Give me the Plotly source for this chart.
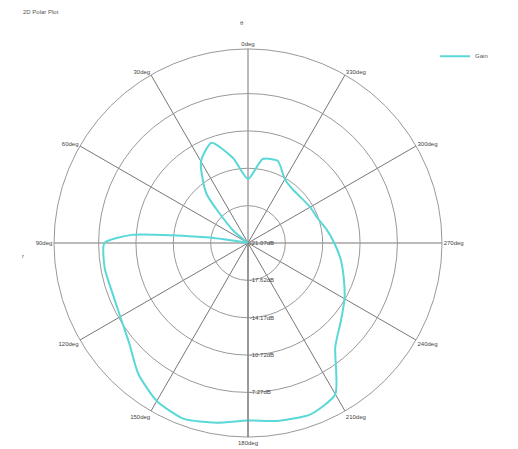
import plotly.graph_objects as go

# Angle (deg, counterclockwise from top) and gain (dB)
theta_deg = [0, 10, 20, 30, 40, 50, 55, 60, 70, 78, 82, 86, 90, 100, 110, 120, 130,
             140, 150, 160, 170, 180, 190, 200, 210, 220, 230, 240, 250, 260, 270,
             280, 290, 300, 310, 320, 330, 340, 350, 360]
gain_db = [-15.16, -13.10, -11.21, -12.38, -15.07, -19.28, -21.07, -21.07, -21.07, -21.07,
           -17.49, -10.32, -7.81, -7.63, -7.72, -7.45, -6.73,
           -5.30, -4.22, -3.78, -4.22, -4.67, -4.40, -4.22, -4.94, -8.53,
           -9.87, -10.77, -11.66, -12.38, -13.10, -13.72, -14.26, -14.44, -14.62,
           -14.62, -14.26, -13.01, -13.19, -15.16]

angle_ticks = [0, 30, 60, 90, 120, 150, 180, 210, 240, 270, 300, 330]
angle_labels = [f"{a}deg" for a in angle_ticks]
radial_ticks = [-21.07, -17.62, -14.17, -10.72, -7.27]
radial_labels = [f"{v:.2f}dB" for v in radial_ticks]

fig = go.Figure()
fig.add_trace(go.Scatterpolar(
    r=gain_db, theta=theta_deg, mode="lines", name="Gain",
    line=dict(color="#5ad8d8", width=2, shape="spline", smoothing=0.6),
))

fig.update_layout(
    width=518, height=449,
    paper_bgcolor="white", plot_bgcolor="white",
    margin=dict(l=0, r=0, t=0, b=0),
    font=dict(family="Liberation Sans, Arial, sans-serif", size=6, color="#444"),
    showlegend=True,
    legend=dict(x=0.84, y=0.875, xanchor="left", yanchor="middle",
                bgcolor="rgba(0,0,0,0)", font=dict(size=6, color="#555")),
    polar=dict(
        domain=dict(x=[54/518, 442/518], y=[12/449, 400/449]),
        bgcolor="white",
        angularaxis=dict(
            rotation=90, direction="counterclockwise",
            tickmode="array", tickvals=angle_ticks, ticktext=angle_labels,
            showline=True, linecolor="#999", linewidth=1,
            gridcolor="#777", gridwidth=1, ticks="",
            tickfont=dict(size=6, color="#444"),
        ),
        radialaxis=dict(
            range=[-21.07, -3.15], angle=-90, side="counterclockwise",
            tickmode="array", tickvals=radial_ticks, ticktext=radial_labels,
            showline=True, linecolor="#777", gridcolor="#999", gridwidth=1,
            ticks="", tickfont=dict(size=6, color="#444"), tickangle=-90,
        ),
    ),
    annotations=[
        dict(text="2D Polar Plot", x=0.04, y=0.985, xref="paper", yref="paper",
             xanchor="left", yanchor="top", showarrow=False,
             font=dict(size=6, color="#555")),
        dict(text="θ", x=0.467, y=0.96, xref="paper", yref="paper",
             showarrow=False, font=dict(size=6, color="#555")),
        dict(text="r", x=0.038, y=0.43, xref="paper", yref="paper",
             showarrow=False, font=dict(size=6, color="#555")),
    ],
)

fig.write_html("out.html")
